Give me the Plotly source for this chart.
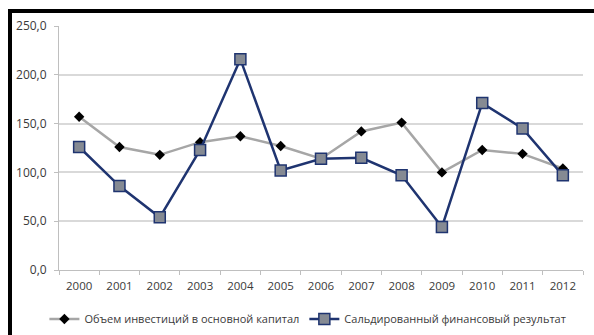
import plotly.graph_objects as go

years = ["2000", "2001", "2002", "2003", "2004", "2005", "2006", "2007", "2008", "2009", "2010", "2011", "2012"]
investment = [157, 126, 118, 131, 137, 127, 114, 142, 151, 100, 123, 119, 104]
fin_result = [126, 86, 54, 123, 216, 102, 114, 115, 97, 44, 171, 145, 97]
name_inv = "Объем инвестиций в основной капитал"
name_fin = "Сальдированный финансовый результат"
y_ticks = [0, 50, 100, 150, 200, 250]

W, H = 594, 335
L, R, T, B = 59, 11, 26, 65
pw, ph = W - L - R, H - T - B

def px(x):
    return (x - L) / pw

def py(y):
    return (H - B - y) / ph

fig = go.Figure()
fig.add_trace(go.Scatter(
    x=years, y=investment, name=name_inv, mode="lines+markers",
    line=dict(color="#A6A6A6", width=2.5),
    marker=dict(symbol="diamond", size=8, color="#000000"),
))
fig.add_trace(go.Scatter(
    x=years, y=fin_result, name=name_fin, mode="lines+markers",
    line=dict(color="#1F3470", width=2.5),
    marker=dict(symbol="square", size=11, color="#858A93", line=dict(color="#1F3470", width=1.5)),
))

font = dict(family="Open Sans, DejaVu Sans, sans-serif", size=11, color="#3A3A3A")

fig.update_layout(
    width=W, height=H,
    margin=dict(l=L, r=R, t=T, b=B, autoexpand=False),
    paper_bgcolor="white", plot_bgcolor="white",
    font=font,
    separators=",.",
    showlegend=True,
    legend=dict(orientation="h", x=0.475, xanchor="center", y=py(319), yanchor="middle",
                font=dict(family="Open Sans, DejaVu Sans, sans-serif", size=11, color="#3A3A3A"),
                itemwidth=30, tracegroupgap=0),
    xaxis=dict(type="category", showgrid=False, showline=True, linecolor="#BFBFBF", linewidth=1,
               ticks="outside", tickson="boundaries", ticklen=4, tickcolor="#BFBFBF",
               range=[-0.5, 12.5], fixedrange=True, tickfont=dict(size=11.5),
               ticklabelstandoff=5),
    yaxis=dict(range=[0, 250], tickvals=y_ticks, tickformat=".1f", showgrid=True,
               gridcolor="#D9D9D9", gridwidth=1.5, showline=True, linecolor="#BFBFBF", linewidth=1,
               ticks="outside", ticklen=4, tickcolor="#BFBFBF", zeroline=False, ticklabelstandoff=5,
               tickfont=dict(size=12)),
    shapes=[
        dict(type="rect", xref="paper", yref="paper", x0=px(8), x1=px(12), y0=py(335), y1=py(9),
             fillcolor="black", line=dict(width=0), layer="above"),
        dict(type="rect", xref="paper", yref="paper", x0=px(8), x1=px(594), y0=py(13), y1=py(9),
             fillcolor="black", line=dict(width=0), layer="above"),
    ],
)

fig.write_html("out.html")
